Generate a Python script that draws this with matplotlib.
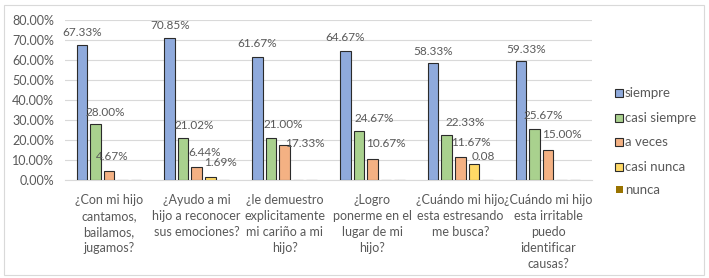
import matplotlib
matplotlib.use("Agg")
import matplotlib.pyplot as plt
from matplotlib.patches import Rectangle
import numpy as np

categories = [
    "¿Con mi hijo\ncantamos,\nbailamos,\njugamos?",
    "¿Ayudo a mi\nhijo a reconocer\nsus emociones?",
    "¿le demuestro\nexplicitamente\nmi cariño a mi\nhijo?",
    "¿Logro\nponerme en el\nlugar de mi\nhijo?",
    "¿Cuándo mi hijo\nesta estresando\nme busca?",
    "¿Cuándo mi hijo\nesta irritable\npuedo\nidentificar\ncausas?",
]
series_names = ["siempre", "casi siempre", "a veces", "casi nunca", "nunca"]
siempre = [67.33, 70.85, 61.67, 64.67, 58.33, 59.33]
casi_siempre = [28.00, 21.02, 21.00, 24.67, 22.33, 25.67]
a_veces = [4.67, 6.44, 17.33, 10.67, 11.67, 15.00]
casi_nunca = [0, 1.69, 0, 0, 8.00, 0]
nunca = [0, 0, 0, 0, 0, 0]
labels_siempre = ["67.33%", "70.85%", "61.67%", "64.67%", "58.33%", "59.33%"]
labels_casi_siempre = ["28.00%", "21.02%", "21.00%", "24.67%", "22.33%", "25.67%"]
labels_a_veces = ["4.67%", "6.44%", "17.33%", "10.67%", "11.67%", "15.00%"]
labels_casi_nunca = ["", "1.69%", "", "", "0.08", ""]
labels_nunca = ["", "", "", "", "", ""]
yticks = [0, 10, 20, 30, 40, 50, 60, 70, 80]

series = [siempre, casi_siempre, a_veces, casi_nunca, nunca]
labels = [labels_siempre, labels_casi_siempre, labels_a_veces, labels_casi_nunca, labels_nunca]
colors = ["#8FAADC", "#A9D18E", "#F4B183", "#FFD966", "#997300"]
edge = "#2b2b2b"

# label offsets in pixels (dx, dy) to mimic Excel placement
dx = [
    [0, 0, 0, 0, 0, 5],
    [10, 11, 12, 15, 18, 9],
    [3, 8, 20, 13, 11, 14],
    [0, 10, 0, 0, 10, 0],
    [0, 0, 0, 0, 0, 0],
]
dy = [
    [13, 13, 13, 13, 12, 12],
    [12, 12, 13, 12, 13, 13],
    [14, 15, 2, 15, 14, 15],
    [0, 14, 0, 0, 8, 0],
    [0, 0, 0, 0, 0, 0],
]

FONT = "Lato"
TXT = "#595959"

fig = plt.figure(figsize=(7.09, 2.78), dpi=100)
W, H = 709, 278
ax = fig.add_axes([65 / W, 1 - 180 / H, (592 - 65) / W, (180 - 20) / H])

x = np.arange(len(categories))
step = 0.154
bw = 0.12
for i, (vals, col) in enumerate(zip(series, colors)):
    off = (i - 2) * step
    ax.bar(x + off, vals, width=bw, color=col, edgecolor=edge, linewidth=0.8, zorder=3)
    for j, v in enumerate(vals):
        lab = labels[i][j]
        if lab:
            ax.annotate(lab, (x[j] + off, v), xytext=(dx[i][j], dy[i][j]),
                        textcoords="offset pixels", ha="center", va="center",
                        fontsize=8.5, color=TXT, family=FONT, zorder=5)

ax.set_xlim(-0.5, len(categories) - 0.5)
ax.set_ylim(0, 80)
ax.set_yticks(yticks)
ax.set_yticklabels([f"{t:.2f}%" for t in yticks], fontsize=9, color=TXT, family=FONT)
ax.set_xticks(x)
ax.set_xticklabels(categories, fontsize=9, color=TXT, family=FONT, linespacing=1.4, va="top")
ax.tick_params(axis="both", length=0)
ax.tick_params(axis="x", pad=10)
ax.tick_params(axis="y", pad=8)
ax.grid(axis="y", color="#D9D9D9", linewidth=0.8, zorder=0)
for s in ["top", "right", "left"]:
    ax.spines[s].set_visible(False)
ax.spines["bottom"].set_color("#D9D9D9")
ax.spines["bottom"].set_linewidth(0.8)

# legend drawn manually in figure pixel coords
ys = [93, 118, 142, 167, 190]
for k, (name, col) in enumerate(zip(series_names, colors)):
    yc = 1 - ys[k] / H
    if k < 4:
        fig.patches.append(Rectangle((615 / W, yc - 4 / H), 8 / W, 8 / H, transform=fig.transFigure,
                                     facecolor=col, edgecolor=edge, linewidth=0.8))
    else:
        fig.patches.append(Rectangle((616 / W, yc - 3 / H), 7 / W, 7 / H, transform=fig.transFigure,
                                     facecolor=col, edgecolor="none"))
    fig.text(625 / W, yc, name, fontsize=9.5, color=TXT, family=FONT, va="center", ha="left")

# outer chart border
fig.patches.append(Rectangle((4 / W, 3 / H), 700 / W, 270 / H, transform=fig.transFigure,
                             facecolor="none", edgecolor="#D9D9D9", linewidth=0.8))

fig.savefig("out.png", dpi=100)
